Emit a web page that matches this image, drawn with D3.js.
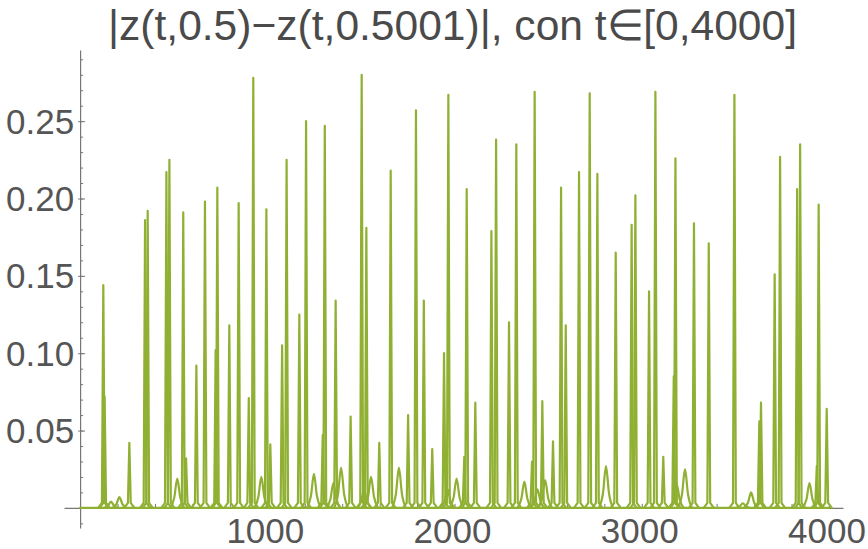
<!DOCTYPE html>
<html><head><meta charset="utf-8">
<script src="https://cdn.jsdelivr.net/npm/d3@7"></script>
<style>
html,body{margin:0;padding:0;background:#fff;}
svg{display:block;font-family:"Liberation Sans",Arial,sans-serif;}
</style>
</head><body>
<svg id="chart" width="868" height="549"></svg>
<script>
// ---------- data ----------
const titleText = "|z(t,0.5)\u2212z(t,0.5001)|, con t\u2208[0,4000]";
const xTickLabels = [1000, 2000, 3000, 4000];
const xMinorTicks = [200,400,600,800,1000,1200,1400,1600,1800,2000,2200,2400,2600,2800,3000,3200,3400,3600,3800,4000];
const yTickLabels = [0.05, 0.10, 0.15, 0.20, 0.25];
const yMinorTicks = [-0.01,0.01,0.02,0.03,0.04,0.05,0.06,0.07,0.08,0.09,0.10,0.11,0.12,0.13,0.14,0.15,0.16,0.17,0.18,0.19,0.20,0.21,0.22,0.23,0.24,0.25,0.26,0.27,0.28,0.29];
const tRange = [0, 4000];

// sharp spikes: time and peak value
const spikeT = [124,131,263,347,361,461,477,551,566,621,667,724,733,797,847,901,925,995,1016,1079,1103,1171,1207,1296,1307,1365,1445,1504,1529,1598,1659,1752,1794,1836,1881,1944,1967,2052,2065,2111,2197,2222,2291,2330,2414,2428,2469,2526,2569,2594,2665,2722,2763,2861,2946,2966,3039,3073,3115,3171,3180,3279,3358,3495,3628,3637,3710,3739,3830,3846,3935,3945,3988];
const spikeV = [0.144,0.072,0.042,0.186,0.192,0.217,0.225,0.191,0.032,0.092,0.198,0.102,0.207,0.118,0.197,0.071,0.278,0.193,0.041,0.105,0.225,0.125,0.250,0.047,0.247,0.134,0.059,0.280,0.181,0.042,0.218,0.060,0.257,0.134,0.038,0.100,0.267,0.033,0.206,0.068,0.179,0.238,0.120,0.235,0.030,0.269,0.069,0.043,0.207,0.118,0.217,0.268,0.216,0.165,0.183,0.202,0.140,0.269,0.033,0.085,0.226,0.184,0.171,0.267,0.056,0.068,0.151,0.227,0.206,0.235,0.027,0.196,0.064];

// low broad humps near the baseline
const bumpT = [165,210,519,968,1249,1353,1394,1517,1554,1703,1963,2011,2373,2443,2484,2809,3187,3231,3540,3584,3896];
const bumpV = [0.004,0.007,0.019,0.020,0.022,0.016,0.026,0.012,0.020,0.026,0.012,0.019,0.017,0.012,0.018,0.027,0.015,0.025,0.003,0.010,0.016];

// ---------- chart ----------
const svg = d3.select("#chart");
const x = d3.scaleLinear().domain([-86, 4075]).range([64, 843]);
const y = d3.scaleLinear().domain([-0.013, 0.296]).range([528, 50]);
const axisColor = "#777";
const textColor = "#555";
const lineColor = "#8FB032";

// title
svg.append("text")
  .attr("x", 452.5).attr("y", 40)
  .attr("text-anchor", "middle")
  .attr("font-size", 43)
  .attr("fill", "#4a4a4a")
  .attr("textLength", 689)
  .attr("lengthAdjust", "spacingAndGlyphs")
  .text(titleText);

// x axis
const gx = svg.append("g").attr("transform", `translate(0,${y(0)})`);
gx.call(d3.axisBottom(x).tickValues(xMinorTicks).tickSize(-4).tickSizeOuter(0).tickPadding(10)
  .tickFormat(d => xTickLabels.includes(d) ? String(d) : ""));
gx.select(".domain").attr("stroke", axisColor).attr("stroke-width", 1.2);
gx.selectAll(".tick line").attr("stroke", axisColor).attr("stroke-width", 1);
gx.selectAll(".tick text").attr("font-size", 35).attr("fill", textColor)
  .attr("font-family", "Liberation Sans, Arial, sans-serif").attr("dx", -2.5);

// y axis
const gy = svg.append("g").attr("transform", `translate(${x(0)},0)`);
gy.call(d3.axisLeft(y).tickValues(yMinorTicks).tickSize(-3).tickSizeOuter(0).tickFormat(""));
gy.select(".domain").attr("stroke", axisColor).attr("stroke-width", 1.2);
gy.selectAll(".tick line").attr("stroke", axisColor).attr("stroke-width", 1);
const gy2 = svg.append("g").attr("transform", `translate(${x(0)},0)`);
gy2.call(d3.axisLeft(y).tickValues(yTickLabels).tickSize(-5).tickSizeOuter(0).tickPadding(6)
  .tickFormat(d3.format(".2f")));
gy2.select(".domain").remove();
gy2.selectAll(".tick line").attr("stroke", axisColor).attr("stroke-width", 1).attr("x1", -2);
gy2.selectAll(".tick text").attr("font-size", 35).attr("fill", textColor)
  .attr("font-family", "Liberation Sans, Arial, sans-serif").attr("dy", "0.34em");

// data
const plot = svg.append("g")
  .attr("fill", "none").attr("stroke", lineColor)
  .attr("stroke-width", 2.2).attr("stroke-linejoin", "round").attr("stroke-linecap", "round");

// baseline of the curve
plot.append("path").attr("d", d3.line()([[x(tRange[0]), y(0)], [x(tRange[1]), y(0)]]));

// humps
const humpLine = d3.line().curve(d3.curveMonotoneX);
bumpT.forEach((t, i) => {
  const cx = x(t), cy = y(bumpV[i]), b = y(0);
  plot.append("path").attr("d", humpLine([[cx - 7, b], [cx - 3, b - (b - cy) * 0.35], [cx, cy], [cx + 3, b - (b - cy) * 0.35], [cx + 7, b]]));
});

// spikes
const spikeLine = d3.line();
spikeT.forEach((t, i) => {
  const cx = x(t), cy = y(spikeV[i]), b = y(0);
  plot.append("path").attr("d", spikeLine([[cx - 5, b], [cx - 1.4, b - 5], [cx, cy], [cx + 1.4, b - 5], [cx + 5, b]]));
});
</script>
</body></html>
